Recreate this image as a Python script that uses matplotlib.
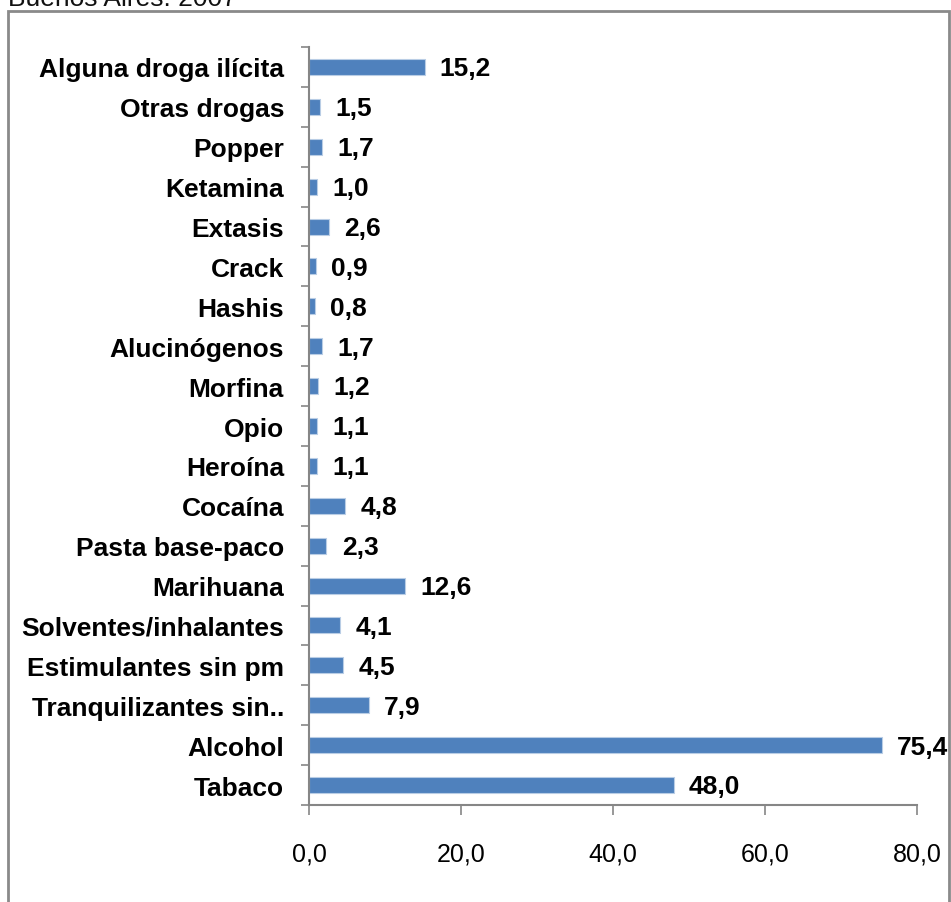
import matplotlib
matplotlib.use("Agg")
import matplotlib.pyplot as plt
from matplotlib.patches import Rectangle
from matplotlib.ticker import FixedLocator

categories = ["Tabaco", "Alcohol", "Tranquilizantes sin..", "Estimulantes sin pm",
              "Solventes/inhalantes", "Marihuana", "Pasta base-paco", "Cocaína",
              "Heroína", "Opio", "Morfina", "Alucinógenos", "Hashis", "Crack",
              "Extasis", "Ketamina", "Popper", "Otras drogas", "Alguna droga ilícita"]
values = [48.0, 75.4, 7.9, 4.5, 4.1, 12.6, 2.3, 4.8, 1.1, 1.1, 1.2, 1.7, 0.8, 0.9,
          2.6, 1.0, 1.7, 1.5, 15.2]
xticks = [0, 20, 40, 60, 80]
title = "Buenos Aires: 2007"

FAM = ["Liberation Sans Narrow", "Liberation Sans", "DejaVu Sans"]
plt.rcParams['font.family'] = FAM

W, H = 951, 903
fig = plt.figure(figsize=(W / 100, H / 100), dpi=100)

# outer border
fig.patches.append(Rectangle((8 / W, -0.01), (949 - 8) / W, 1 - 12 / H + 0.01,
                             transform=fig.transFigure, fill=False,
                             edgecolor="#8a8a8a", linewidth=2))
fig.text(8 / W, 1 - 6 / H, title, fontsize=19, family=["Liberation Sans", "DejaVu Sans"],
         va="baseline", ha="left", color="#111111")

ax = fig.add_axes([309 / W, 97 / H, (917 - 309) / W, (806 - 48) / H])
y = list(range(len(categories)))
ax.barh(y, values, height=0.4, color="#4F81BD", edgecolor="#b9cde5", linewidth=0.8)
ax.set_ylim(-0.5, len(categories) - 0.5)
ax.set_xlim(0, 80)

for yi, v in zip(y, values):
    ax.annotate(f"{v:.1f}".replace(".", ","), (v, yi), xytext=(11, -1),
                textcoords="offset points", va="center", ha="left",
                fontsize=19, fontweight="bold", color="black")

ax.set_yticks(y)
ax.set_yticklabels(categories, fontsize=19, fontweight="bold")
ax.yaxis.set_minor_locator(FixedLocator([i - 0.5 for i in range(len(categories) + 1)]))
ax.tick_params(axis="y", which="major", length=0, pad=18)
ax.tick_params(axis="y", which="minor", length=6, width=1.2, color="#868686", direction="out")

ax.set_xticks(xticks)
ax.set_xticklabels([f"{t:.1f}".replace(".", ",") for t in xticks], fontsize=18)
ax.tick_params(axis="x", which="major", length=7, width=1.2, color="#868686",
               direction="out", pad=19)

for s in ["top", "right"]:
    ax.spines[s].set_visible(False)
for s in ["left", "bottom"]:
    ax.spines[s].set_color("#868686")
    ax.spines[s].set_linewidth(1.5)

fig.savefig("out.png", dpi=100)
